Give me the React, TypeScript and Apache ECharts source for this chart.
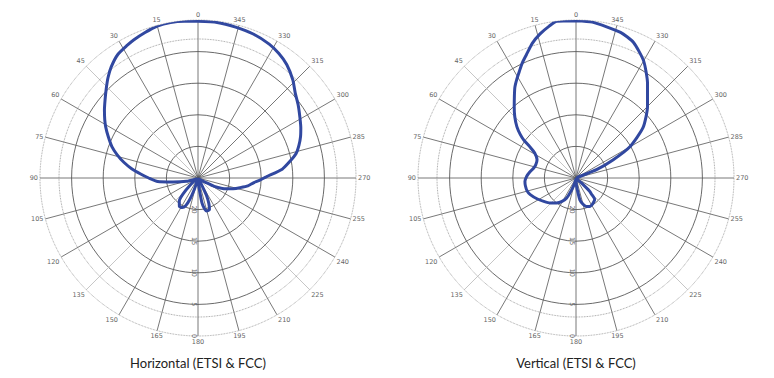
import React, { useEffect, useRef } from "react";
import * as echarts from "echarts";

// Azimuth angles (deg, counter-clockwise from top) and attenuation (dB below peak)
const hAngles = [0, 5, 10, 15, 20, 25, 28, 33, 38, 42, 46, 50, 54, 58, 61, 65, 70, 74, 78, 82, 86, 90, 95, 99, 106, 115, 122, 132, 137, 141, 147, 152, 156, 159, 162, 166, 172, 180, 186, 189, 192, 195, 200, 203, 206, 209, 215, 230, 240, 243, 249, 253, 257, 261, 265, 268, 271, 276, 280, 284, 288, 292, 296, 301, 306, 311, 316, 322, 327, 332, 339, 346, 353, 360];
const hAtten = [0.2, 0.1, 0.0, 0.1, 0.5, 0.9, 1.2, 1.7, 2.7, 3.7, 4.8, 5.8, 6.7, 7.6, 8.3, 9.3, 10.5, 11.7, 13.0, 14.4, 15.9, 17.2, 18.6, 21.0, 23.1, 24.5, 24.8, 23.5, 21.5, 20.3, 19.6, 19.7, 20.2, 21.3, 23.0, 24.5, 24.8, 24.8, 23.5, 21.0, 20.0, 19.6, 19.7, 20.6, 22.0, 24.0, 24.8, 24.8, 23.8, 22.1, 20.2, 19.2, 18.2, 17.0, 16.2, 15.2, 14.2, 11.6, 10.3, 9.0, 8.2, 7.5, 6.9, 6.2, 5.4, 4.6, 3.4, 2.2, 1.5, 1.0, 0.6, 0.4, 0.2, 0.2];

const vAngles = [0, 7, 10, 14, 18, 22, 25, 28, 31, 34, 37, 41, 45, 49, 52, 54, 56, 59, 65, 72, 77, 83, 88, 94, 99, 105, 110, 118, 126, 134, 142, 149, 155, 160, 166, 172, 180, 184, 188, 190, 195, 200, 206, 212, 217, 221, 224, 226, 228, 232, 260, 288, 292, 296, 300, 307, 315, 323, 330, 337, 343, 354, 360];
const vAtten = [0.1, 0.0, 0.6, 1.5, 2.6, 4.0, 4.9, 5.9, 6.8, 7.7, 8.8, 10.1, 11.3, 12.6, 13.8, 14.8, 16.2, 17.4, 18.2, 18.3, 18.1, 17.6, 17.2, 16.9, 16.9, 17.0, 17.3, 18.0, 18.7, 19.3, 20.0, 20.7, 21.5, 23.0, 24.2, 24.8, 24.8, 23.7, 22.5, 21.5, 20.7, 20.2, 20.0, 20.1, 20.3, 20.5, 21.5, 22.0, 23.8, 24.8, 24.8, 24.8, 21.5, 18.5, 15.2, 11.7, 9.0, 6.2, 3.6, 1.7, 0.9, 0.2, 0.1];

const titles = ["Horizontal (ETSI & FCC)", "Vertical (ETSI & FCC)"];
const halfPowerRingDb = 3;
const radiusMaxDb = 25;

const toAxisAngle = (a: number) => (a > 180 ? a - 360 : a);
const toLabel = (v: number) => (v === 180 ? "" : String(v < 0 ? v + 360 : v));

const spokeColors = Array.from({ length: 25 }, (_, i) => ([3, 15, 21].includes(i) ? "#b8b8b8" : "#555"));

export default function App() {
  const ref = useRef<HTMLDivElement>(null);
  useEffect(() => {
    if (!ref.current) return;
    const chart = echarts.init(ref.current, undefined, { renderer: "svg" });
    const centers = [[198, 178], [576, 178]];
    const patterns = [
      hAngles.map((a, i) => [hAtten[i], toAxisAngle(a)]),
      vAngles.map((a, i) => [vAtten[i], toAxisAngle(a)]),
    ];
    const ring: number[][] = [];
    for (let a = -180; a <= 180; a += 3) ring.push([halfPowerRingDb, a]);

    const option: any = {
      animation: false,
      backgroundColor: "#fff",
      polar: centers.map((c) => ({ center: c, radius: 158 })),
      angleAxis: centers.map((_, i) => ({
        polarIndex: i,
        type: "value",
        min: -180,
        max: 180,
        interval: 15,
        startAngle: 270,
        clockwise: false,
        axisLine: { show: true, lineStyle: { color: "#888", type: "dotted", width: 0.8 } },
        axisTick: { show: false },
        axisLabel: { show: true, fontSize: 6.5, color: "#666", margin: 2, fontFamily: "DejaVu Sans", formatter: toLabel },
        splitLine: { show: true, lineStyle: { color: spokeColors, width: 0.8 } },
      })),
      radiusAxis: centers.map((_, i) => ({
        polarIndex: i,
        type: "value",
        min: 0,
        max: radiusMaxDb,
        interval: 5,
        inverse: true,
        axisLine: { show: false },
        axisTick: { show: false },
        axisLabel: { fontSize: 6.5, color: "#666", rotate: -90, margin: -8, fontFamily: "DejaVu Sans", formatter: (v: number) => (v === radiusMaxDb ? "" : String(v)) },
        splitLine: { show: true, lineStyle: { color: ["rgba(0,0,0,0)", "#444", "#444", "#444", "#444", "#444"], width: 0.8 } },
      })),
      series: [
        ...centers.map((_, i) => ({
          type: "line",
          coordinateSystem: "polar",
          polarIndex: i,
          data: ring,
          symbol: "none",
          silent: true,
          lineStyle: { color: "#888", type: "dotted", width: 0.8 },
        })),
        ...patterns.map((d, i) => ({
          type: "line",
          coordinateSystem: "polar",
          polarIndex: i,
          data: d,
          symbol: "none",
          smooth: 0.2,
          lineStyle: { color: "#3148a0", width: 3 },
        })),
      ],
      graphic: titles.map((t, i) => ({
        type: "text",
        x: centers[i][0],
        y: 363,
        style: { text: t, font: "13px Lato", fill: "#222", textAlign: "center", textVerticalAlign: "middle" },
      })),
    };
    chart.setOption(option);
    return () => chart.dispose();
  }, []);
  return <div ref={ref} style={{ position: "absolute", left: 0, top: 0, width: 774, height: 378 }} />;
}
